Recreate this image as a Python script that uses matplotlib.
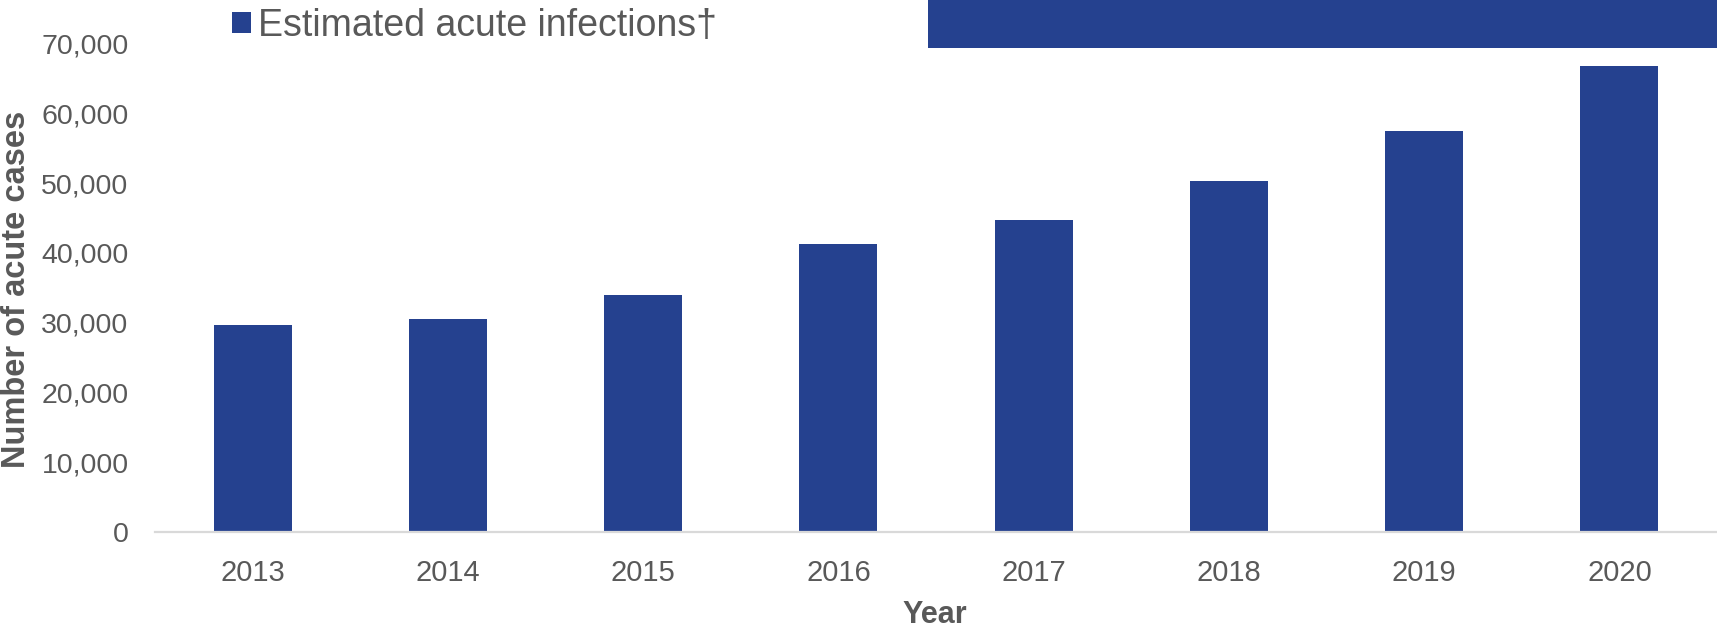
import matplotlib
matplotlib.use("Agg")
import matplotlib.pyplot as plt
from matplotlib.patches import Rectangle, Patch
from matplotlib.ticker import FuncFormatter

plt.rcParams['font.family'] = ['Liberation Sans', 'DejaVu Sans']

# data
years = ['2013', '2014', '2015', '2016', '2017', '2018', '2019', '2020']
acute_infections = [29700, 30500, 33900, 41200, 44700, 50300, 57500, 66700]
y_ticks = [0, 10000, 20000, 30000, 40000, 50000, 60000, 70000]

bar_color = '#25418F'
text_gray = '#595959'
axis_gray = '#D9D9D9'

W, H = 1717, 628
fig = plt.figure(figsize=(W / 100, H / 100), dpi=100)
ax = fig.add_axes((155 / W, 1 - 532.3 / H, 1 - 155 / W, (532.3 - 43.3) / H))

x = range(len(years))
ax.bar(x, acute_infections, width=0.4, color=bar_color, zorder=2)

ax.set_xlim(-0.5, len(years) - 0.5)
ax.set_ylim(0, 70000)
ax.set_xticks(list(x))
ax.set_xticklabels(years)
ax.set_yticks(y_ticks)
ax.yaxis.set_major_formatter(FuncFormatter(lambda v, p: '{:,.0f}'.format(v)))

for s in ['top', 'right', 'left']:
    ax.spines[s].set_visible(False)
ax.spines['bottom'].set_color(axis_gray)
ax.spines['bottom'].set_linewidth(1.6)
ax.tick_params(axis='both', length=0, labelsize=20.5, labelcolor=text_gray)
ax.tick_params(axis='y', pad=19)
ax.tick_params(axis='x', pad=19, labelsize=21)

# axis titles
fig.text(16.5 / W, 1 - 289 / H, 'Number of acute cases', rotation=90,
         ha='center', va='center', fontsize=23.5, fontweight='bold', color=text_gray)
fig.text(935 / W, 1 - 623 / H, 'Year', ha='center', va='baseline',
         fontsize=22, fontweight='bold', color=text_gray)

# legend
handles = [Patch(facecolor=bar_color, edgecolor='none')]
fig.legend(handles, ['Estimated acute infections\u2020'], loc='upper left',
           bbox_to_anchor=(232 / W, 1 - 8 / H), frameon=False, fontsize=27,
           labelcolor=text_gray, handlelength=0.5, handleheight=0.5,
           handletextpad=0.2, borderpad=0, borderaxespad=0)

# cropped block at the top right
fig.patches.append(Rectangle((928 / W, 1 - 48 / H), 1 - 928 / W, 48 / H,
                             transform=fig.transFigure, facecolor=bar_color,
                             edgecolor='none'))

fig.savefig('out.png', dpi=100)
